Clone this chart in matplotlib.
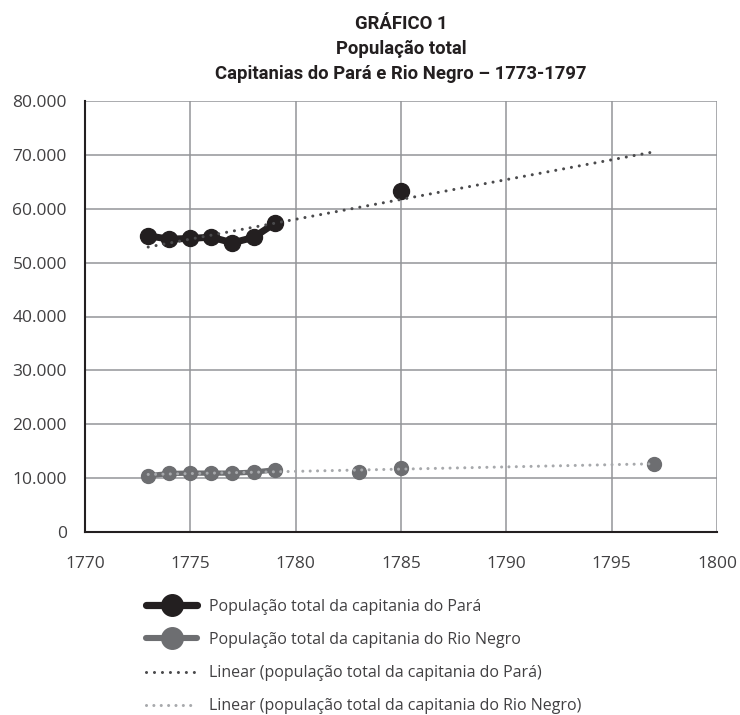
import matplotlib
matplotlib.use("Agg")
import matplotlib.pyplot as plt
import numpy as np
from matplotlib.ticker import FuncFormatter, MultipleLocator
from matplotlib.lines import Line2D
from matplotlib import font_manager

# census years (nan = no count, breaks the line like Excel does)
years = [1773, 1774, 1775, 1776, 1777, 1778, 1779, 1780, 1783, 1784, 1785, 1790, 1797]
para = [54970, 54360, 54490, 54730, 53670, 54680, 57270, np.nan, np.nan, np.nan, 63270, np.nan, np.nan]
rio_negro = [10430, 10860, 10930, 10930, 10930, 11110, 11540, np.nan, 11170, np.nan, 11790, np.nan, 12650]

labels = ['População total da capitania do Pará',
          'População total da capitania do Rio Negro',
          'Linear (população total da capitania do Pará)',
          'Linear (população total da capitania do Rio Negro)']
title = 'GRÁFICO 1\nPopulação total\nCapitanias do Pará e Rio Negro – 1773-1797'

installed = {f.name for f in font_manager.fontManager.ttflist}
body_font = 'Open Sans' if 'Open Sans' in installed else 'DejaVu Sans'
title_font = 'Roboto' if 'Roboto' in installed else body_font
plt.rcParams['font.family'] = [body_font, 'DejaVu Sans']

c_para = '#231f20'
c_rio = '#6d6e71'
c_para_tr = '#4a4a4c'
c_rio_tr = '#a7a9ac'
dots_para = (0, (0.01, 2.6))
dots_rio = (0, (0.01, 2.4))

fig = plt.figure(figsize=(7.4, 7.15), dpi=100)
ax = fig.add_axes([85/740, 1 - 532/715, (717-85)/740, (532-101)/715])

x = np.array(years, dtype=float)
yp = np.array(para, dtype=float)
yr = np.array(rio_negro, dtype=float)

# linear trendlines over 1773-1797
xt = np.array([1773, 1797])
m = ~np.isnan(yp)
fp = np.polyfit(x[m], yp[m], 1)
m = ~np.isnan(yr)
fr = np.polyfit(x[m], yr[m], 1)

ax.plot(x, yp, color=c_para, lw=5, marker='o', ms=11.5, zorder=3)
ax.plot(x, yr, color=c_rio, lw=3.8, marker='o', ms=10, zorder=3)
ax.plot(xt, np.polyval(fp, xt), color=c_para_tr, lw=2.2, ls=dots_para,
        dash_capstyle='round', zorder=4)
ax.plot(xt, np.polyval(fr, xt), color=c_rio_tr, lw=2.2, ls=dots_rio,
        dash_capstyle='round', zorder=4)

ax.set_xlim(1770, 1800)
ax.set_ylim(0, 80000)
ax.xaxis.set_major_locator(MultipleLocator(5))
ax.yaxis.set_major_locator(MultipleLocator(10000))
ax.yaxis.set_major_formatter(FuncFormatter(lambda v, p: f'{int(v):,}'.replace(',', '.')))

ax.grid(True, color='#939598', lw=1.1)
ax.set_axisbelow(True)
for s in ['top', 'right']:
    ax.spines[s].set_visible(False)
for s in ['left', 'bottom']:
    ax.spines[s].set_color('#231f20')
    ax.spines[s].set_linewidth(1.5)
ax.tick_params(length=0, labelsize=12.5, colors='#414042')
ax.tick_params(axis='y', pad=13)
ax.tick_params(axis='x', pad=17)

ax.set_title(title, fontfamily=title_font, fontweight='bold', fontsize=13.3,
             color='#231f20', linespacing=1.5, pad=16)

# legend handles are drawn bigger than the marks, as in the original
handles = [
    Line2D([], [], color=c_para, lw=5.2, marker='o', ms=15.5, solid_capstyle='round'),
    Line2D([], [], color=c_rio, lw=4.4, marker='o', ms=15.5, solid_capstyle='round'),
    Line2D([], [], color=c_para_tr, lw=2.2, ls=dots_para, dash_capstyle='round'),
    Line2D([], [], color=c_rio_tr, lw=2.2, ls=dots_rio, dash_capstyle='round'),
]
leg = ax.legend(handles, labels, loc='upper left', bbox_to_anchor=(47/632, -0.122),
                frameon=False, fontsize=11.5, handlelength=3.2, handletextpad=0.75,
                labelspacing=1.07, labelcolor='#414042')

fig.savefig('out.png', dpi=100)
